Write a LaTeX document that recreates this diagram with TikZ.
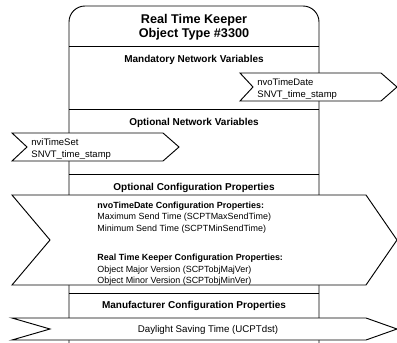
\documentclass[tikz,border=0pt]{standalone}
\usepackage{fontspec}
\setmainfont{Liberation Sans}
\begin{document}
\begin{tikzpicture}[x=0.75pt,y=-0.75pt,line width=0.7pt,
  titletxt/.style={font=\bfseries\fontsize{9.5}{11}\selectfont,inner sep=0pt,anchor=base},
  hdr/.style={font=\bfseries\fontsize{7.5}{9}\selectfont,inner sep=0pt,anchor=base},
  nvtxt/.style={font=\fontsize{7.1}{8.5}\selectfont,inner sep=0pt,anchor=base west},
  cptxt/.style={font=\fontsize{6.7}{8}\selectfont,inner sep=0pt,anchor=base west},
  cpbold/.style={font=\bfseries\fontsize{6.7}{8}\selectfont,inner sep=0pt,anchor=base west},
  arrowshape/.style={draw,fill=white,line join=miter}]
\useasboundingbox (0,0) rectangle (397,343);
% main object box
\draw[rounded corners=12pt] (69,343) -- (69,6) -- (319,6) -- (319,343);
% dividers
\draw (69,46) -- (319,46);
\draw (69,109) -- (319,109);
\draw (69,174) -- (319,174);
\draw (69,293) -- (319,293);
% title
\node[titletxt] (t1) at (194,23) {Real Time Keeper};
\node[titletxt] (t2) at (194,37) {Object Type \#3300};
% section headers
\node[hdr] (h1) at (194,62.5) {Mandatory Network Variables};
\node[hdr] (h2) at (194,125.5) {Optional Network Variables};
\node[hdr] (h3) at (194,190) {Optional Configuration Properties};
\node[hdr] (h4) at (194,308.5) {Manufacturer Configuration Properties};
% nvoTimeDate (output)
\draw[arrowshape] (240,73) -- (381,73) -- (397,87) -- (381,101) -- (240,101) -- (253,87) -- cycle;
\node[nvtxt] (nvo1) at (257,85.5) {nvoTimeDate};
\node[nvtxt] (nvo2) at (257,97.5) {SNVT\_time\_stamp};
% nviTimeSet (input)
\draw[arrowshape] (12,133) -- (163,133) -- (179,147) -- (163,161) -- (12,161) -- (27,147) -- cycle;
\node[nvtxt] (nvi1) at (31,145.5) {nviTimeSet};
\node[nvtxt] (nvi2) at (31,157.5) {SNVT\_time\_stamp};
% configuration properties arrow
\draw[arrowshape] (12,195) -- (366,195) -- (397,240) -- (366,285) -- (12,285) -- (50,240) -- cycle;
\node[cpbold] (c1) at (97,208) {nvoTimeDate Configuration Properties:};
\node[cptxt] (c2) at (97,219.5) {Maximum Send Time (SCPTMaxSendTime)};
\node[cptxt] (c3) at (97,231) {Minimum Send Time (SCPTMinSendTime)};
\node[cpbold] (c4) at (97,260.5) {Real Time Keeper Configuration Properties:};
\node[cptxt] (c5) at (97,272) {Object Major Version (SCPTobjMajVer)};
\node[cptxt] (c6) at (97,283) {Object Minor Version (SCPTobjMinVer)};
% manufacturer property arrow
\draw[arrowshape] (12,318) -- (366,318) -- (397,329) -- (366,340) -- (12,340) -- (50,329) -- cycle;
\node[font=\fontsize{7.3}{9}\selectfont,inner sep=0pt,anchor=base] (d1) at (208,332) {Daylight Saving Time (UCPTdst)};
\end{tikzpicture}
\end{document}
